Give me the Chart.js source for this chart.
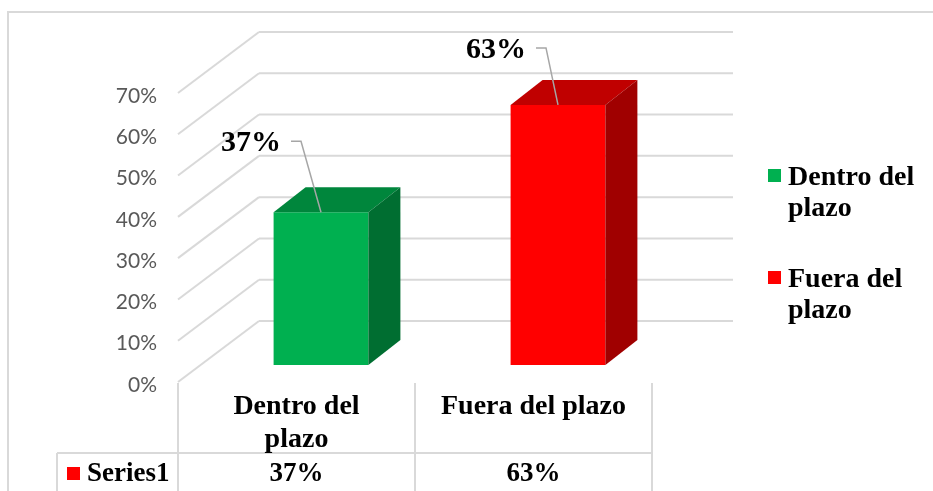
<!DOCTYPE html>
<html>
<head>
<meta charset="utf-8">
<script src="https://cdn.jsdelivr.net/npm/chart.js@4/dist/chart.umd.min.js"></script>
<style>
  body { margin: 0; background: #fff; }
  #caja { width: 933px; height: 491px; }
</style>
</head>
<body>
<div id="caja"><canvas id="grafico" width="933" height="491"></canvas></div>
<script>
// datos
const categorias = ['Dentro del plazo', 'Fuera del plazo'];
const etiquetasEje = [['Dentro del', 'plazo'], 'Fuera del plazo'];
const etiquetasLeyenda = [['Dentro del', 'plazo'], ['Fuera del', 'plazo']];
const nombreSerie = 'Series1';
const valores = [37, 63];
const marcasY = [0, 10, 20, 30, 40, 50, 60, 70];

const coloresFrente = ['#00B050', '#FF0000'];
const coloresTapa = ['#00863C', '#C00000'];
const coloresLado = ['#006E31', '#A00000'];

// geometria 3d
const PARED_DX = 81, PARED_DY = -61;   // fondo respecto al plano frontal
const BARRA_DX = 24.5, BARRA_DY = -17; // plano frontal de las barras
const PROF_DX = 32, PROF_DY = -25;     // profundidad de cada barra
const GRIS = '#D9D9D9';
const desvioEtiqueta = [[-20, -71], [-12, -57]];

function linea(ctx, x1, y1, x2, y2) {
  ctx.beginPath();
  ctx.moveTo(x1, y1);
  ctx.lineTo(x2, y2);
  ctx.stroke();
}

const escena3d = {
  id: 'escena3d',
  beforeDraw(chart) {
    const { ctx, chartArea: a, scales: { x, y } } = chart;
    ctx.save();
    ctx.fillStyle = '#fff';
    ctx.fillRect(0, 0, chart.width, chart.height);
    ctx.strokeStyle = GRIS;
    ctx.lineWidth = 2;
    ctx.strokeRect(8, 12, 1000, 600);

    // paredes (lateral y fondo)
    marcasY.forEach(t => {
      const py = y.getPixelForValue(t);
      linea(ctx, a.left, py, a.left + PARED_DX, py + PARED_DY);
      linea(ctx, a.left + PARED_DX, py + PARED_DY, a.right + PARED_DX, py + PARED_DY);
    });

    // tabla de datos
    const medio = (x.getPixelForValue(0) + x.getPixelForValue(1)) / 2;
    [a.left, medio, a.right].forEach(px => linea(ctx, px, a.bottom + 1, px, chart.height));
    linea(ctx, 57, 453, a.right, 453);
    linea(ctx, 57, 453, 57, chart.height);
    ctx.restore();
  },
  beforeDatasetsDraw(chart) {
    chart.ctx.save();
    chart.ctx.translate(BARRA_DX, BARRA_DY);
  },
  afterDatasetsDraw(chart) {
    const ctx = chart.ctx;
    const meta = chart.getDatasetMeta(0);
    meta.data.forEach((barra, i) => {
      const { x, y, base, width } = barra.getProps(['x', 'y', 'base', 'width'], true);
      const x1 = x - width / 2, x2 = x + width / 2;
      ctx.fillStyle = coloresTapa[i];
      ctx.beginPath();
      ctx.moveTo(x1, y);
      ctx.lineTo(x2, y);
      ctx.lineTo(x2 + PROF_DX, y + PROF_DY);
      ctx.lineTo(x1 + PROF_DX, y + PROF_DY);
      ctx.closePath();
      ctx.fill();
      ctx.fillStyle = coloresLado[i];
      ctx.beginPath();
      ctx.moveTo(x2, y);
      ctx.lineTo(x2 + PROF_DX, y + PROF_DY);
      ctx.lineTo(x2 + PROF_DX, base + PROF_DY);
      ctx.lineTo(x2, base);
      ctx.closePath();
      ctx.fill();
    });
    ctx.restore();

    // etiquetas de datos con linea guia
    ctx.save();
    meta.data.forEach((barra, i) => {
      const px = barra.x + BARRA_DX, py = barra.y + BARRA_DY;
      const [dx, dy] = desvioEtiqueta[i];
      ctx.strokeStyle = '#A6A6A6';
      ctx.lineWidth = 1.5;
      ctx.beginPath();
      ctx.moveTo(px, py);
      ctx.lineTo(px + dx, py + dy);
      ctx.lineTo(px + dx - 10, py + dy);
      ctx.stroke();
      ctx.fillStyle = '#000';
      ctx.font = 'bold 30px "Liberation Serif"';
      ctx.textAlign = 'right';
      ctx.textBaseline = 'middle';
      ctx.fillText(valores[i] + '%', px + dx - 20, py + dy + 2);
    });
    ctx.restore();
  },
  afterDraw(chart) {
    const { ctx, scales: { x } } = chart;
    ctx.save();

    // fila de la tabla
    ctx.fillStyle = coloresFrente[1];
    ctx.fillRect(67, 467, 13, 13);
    ctx.fillStyle = '#000';
    ctx.font = 'bold 27px "Liberation Serif"';
    ctx.textBaseline = 'middle';
    ctx.textAlign = 'left';
    ctx.fillText(nombreSerie, 87, 474);
    ctx.textAlign = 'center';
    valores.forEach((v, i) => ctx.fillText(v + '%', x.getPixelForValue(i), 474));

    // leyenda
    const basesLeyenda = [185, 287];
    ctx.font = 'bold 28px "Liberation Serif"';
    ctx.textAlign = 'left';
    ctx.textBaseline = 'alphabetic';
    categorias.forEach((c, i) => {
      ctx.fillStyle = coloresFrente[i];
      ctx.fillRect(768, basesLeyenda[i] - 16, 13, 13);
      ctx.fillStyle = '#000';
      etiquetasLeyenda[i].forEach((t, j) => ctx.fillText(t, 788, basesLeyenda[i] + j * 31));
    });
    ctx.restore();
  }
};

new Chart(document.getElementById('grafico'), {
  type: 'bar',
  data: {
    labels: etiquetasEje,
    datasets: [{
      label: nombreSerie,
      data: valores,
      backgroundColor: coloresFrente,
      borderWidth: 0,
      barPercentage: 0.4,
      categoryPercentage: 1
    }]
  },
  options: {
    responsive: false,
    animation: false,
    layout: { padding: { left: 8, right: 281, top: 93, bottom: 0 } },
    plugins: {
      legend: { display: false },
      tooltip: { enabled: false }
    },
    scales: {
      x: {
        grid: { display: false, drawTicks: false },
        border: { display: false },
        ticks: {
          color: '#000',
          padding: 8,
          maxRotation: 0,
          autoSkip: false,
          font: { family: 'Liberation Serif', size: 28, weight: 'bold', lineHeight: 1.18 }
        },
        afterFit(escala) { escala.height = 109; }
      },
      y: {
        min: 0,
        max: 70,
        grid: { display: false, drawTicks: false },
        border: { display: false },
        ticks: {
          stepSize: 10,
          color: '#595959',
          padding: 21,
          labelOffset: 3,
          font: { family: 'Lato', size: 21 },
          callback: v => v + '%'
        },
        afterFit(escala) { escala.width = 170; }
      }
    }
  },
  plugins: [escena3d]
});
</script>
</body>
</html>
